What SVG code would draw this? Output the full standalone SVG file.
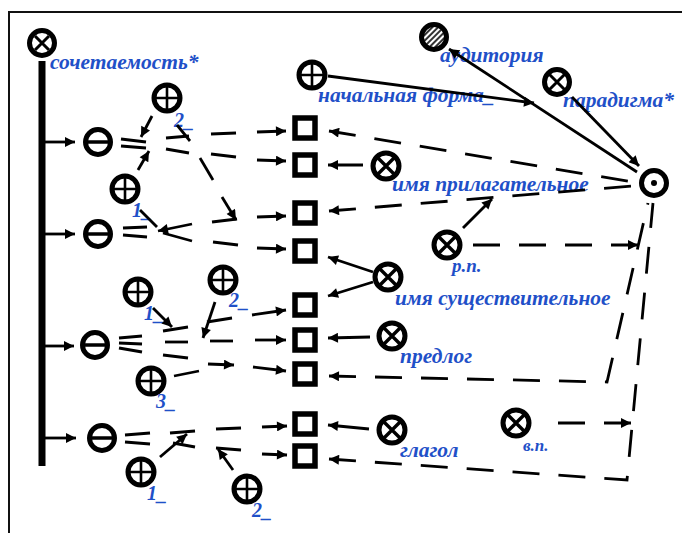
<svg xmlns="http://www.w3.org/2000/svg" width="682" height="533" viewBox="0 0 682 533">
<style>
.c{stroke:#000;stroke-width:2.8;fill:none}
.d{stroke:#000;stroke-width:2.8;fill:none;stroke-dasharray:27 19}
.a{marker-end:url(#ah)}
.s{marker-start:url(#ahs)}
.ring{fill:#fff;stroke:#000;stroke-width:5}
.in{stroke:#000;stroke-width:2.6;fill:none}
.inx{stroke:#000;stroke-width:3.4;fill:none}
.sq{fill:#fff;stroke:#000;stroke-width:5.5}
.t{font-family:"Liberation Serif",serif;font-style:italic;font-weight:bold;fill:#1f50c8;font-size:21.5px}
.n{font-family:"Liberation Serif",serif;font-style:italic;font-weight:bold;fill:#1f50c8;font-size:20px}
</style>
<defs>
<marker id="ah" viewBox="0 0 10 10" refX="10" refY="5" markerWidth="12" markerHeight="10" markerUnits="userSpaceOnUse" orient="auto"><path d="M0,0 L10,5 L0,10 z" fill="#000"/></marker>
<marker id="ahs" viewBox="0 0 10 10" refX="10" refY="5" markerWidth="12" markerHeight="10" markerUnits="userSpaceOnUse" orient="auto-start-reverse"><path d="M0,0 L10,5 L0,10 z" fill="#000"/></marker>
<pattern id="hatch" width="4" height="4" patternUnits="userSpaceOnUse" patternTransform="rotate(45)"><rect width="4" height="4" fill="#fff"/><rect width="2" height="4" fill="#333"/></pattern>
</defs>
<rect x="9" y="12" width="720" height="600" fill="none" stroke="#111" stroke-width="2"/>

<g id="root">
<circle class="ring" cx="42" cy="43" r="12.5"/>
<path class="inx" d="M35,36 L49,50 M49,36 L35,50" style="stroke-width:3"/>
<rect x="38.5" y="61" width="7" height="405" fill="#000"/>
</g>

<g id="theta1"><circle class="ring" cx="98" cy="142" r="12.5"/><line class="in" x1="86" y1="142" x2="110" y2="142" style="stroke-width:3.5"/></g>
<g id="theta2"><circle class="ring" cx="98" cy="234" r="12.5"/><line class="in" x1="86" y1="234" x2="110" y2="234" style="stroke-width:3.5"/></g>
<g id="theta3"><circle class="ring" cx="95" cy="345" r="12.5"/><line class="in" x1="83" y1="345" x2="107" y2="345" style="stroke-width:3.5"/></g>
<g id="theta4"><circle class="ring" cx="102" cy="438" r="12.5"/><line class="in" x1="90" y1="438" x2="114" y2="438" style="stroke-width:3.5"/></g>

<g id="pA1"><circle class="ring" cx="167" cy="98" r="13"/><path class="in" d="M154,98 H180 M167,85 V111"/></g>
<g id="pA2"><circle class="ring" cx="125" cy="189" r="13"/><path class="in" d="M112,189 H138 M125,176 V202"/></g>
<g id="pC1"><circle class="ring" cx="138" cy="292" r="13"/><path class="in" d="M125,292 H151 M138,279 V305"/></g>
<g id="pC2"><circle class="ring" cx="223" cy="280" r="13"/><path class="in" d="M210,280 H236 M223,267 V293"/></g>
<g id="pC3"><circle class="ring" cx="151" cy="381" r="13"/><path class="in" d="M138,381 H164 M151,368 V394"/></g>
<g id="pD1"><circle class="ring" cx="141" cy="472" r="13"/><path class="in" d="M128,472 H154 M141,459 V485"/></g>
<g id="pD2"><circle class="ring" cx="247" cy="489" r="13"/><path class="in" d="M234,489 H260 M247,476 V502"/></g>
<g id="pTop"><circle class="ring" cx="312" cy="75" r="13"/><path class="in" d="M299,75 H325 M312,62 V88"/></g>

<g id="sq1"><rect class="sq" x="295" y="118" width="20" height="20"/></g>
<g id="sq2"><rect class="sq" x="295" y="155" width="20" height="20"/></g>
<g id="sq3"><rect class="sq" x="295" y="203" width="20" height="20"/></g>
<g id="sq4"><rect class="sq" x="295" y="241" width="20" height="20"/></g>
<g id="sq5"><rect class="sq" x="295" y="295" width="20" height="20"/></g>
<g id="sq6"><rect class="sq" x="295" y="330" width="20" height="20"/></g>
<g id="sq7"><rect class="sq" x="295" y="364" width="20" height="20"/></g>
<g id="sq8"><rect class="sq" x="295" y="414" width="20" height="20"/></g>
<g id="sq9"><rect class="sq" x="295" y="446" width="20" height="20"/></g>

<g id="xN1"><circle class="ring" cx="386" cy="166" r="13"/><path class="inx" d="M377,157 L395,175 M395,157 L377,175"/></g>
<g id="xN2"><circle class="ring" cx="447" cy="245" r="13"/><path class="inx" d="M438,236 L456,254 M456,236 L438,254"/></g>
<g id="xN3"><circle class="ring" cx="388" cy="277" r="13"/><path class="inx" d="M379,268 L397,286 M397,268 L379,286"/></g>
<g id="xN4"><circle class="ring" cx="392" cy="336" r="13"/><path class="inx" d="M383,327 L401,345 M401,327 L383,345"/></g>
<g id="xN5"><circle class="ring" cx="392" cy="430" r="13"/><path class="inx" d="M383,421 L401,439 M401,421 L383,439"/></g>
<g id="xN6"><circle class="ring" cx="516" cy="423" r="13"/><path class="inx" d="M507,414 L525,432 M525,414 L507,432"/></g>
<g id="xPar"><circle class="ring" cx="557" cy="82" r="12.5"/><path class="inx" d="M549,74 L565,90 M565,74 L549,90" style="stroke-width:3"/></g>
<g id="hatched"><circle cx="434" cy="37" r="12.5" fill="url(#hatch)" stroke="#000" stroke-width="5"/></g>
<g id="dot"><circle class="ring" cx="654" cy="183" r="12.5"/><circle cx="654" cy="183" r="3" fill="#000"/></g>

<g id="labels">
<text class="t" x="50" y="69">сочетаемость*</text>
<text class="t" x="318" y="102">начальная форма_</text>
<text class="t" x="440" y="62">аудитория</text>
<text class="t" x="563" y="107">парадигма*</text>
<text class="t" x="392" y="191">имя прилагательное</text>
<text class="t" x="452" y="272" style="font-size:19px">р.п.</text>
<text class="t" x="395" y="305">имя существительное</text>
<text class="t" x="400" y="363">предлог</text>
<text class="t" x="400" y="457">глагол</text>
<text class="t" x="523" y="451" style="font-size:17px">в.п.</text>
<text class="n" x="174" y="127">2_</text>
<text class="n" x="132" y="217">1_</text>
<text class="n" x="144" y="320">1_</text>
<text class="n" x="229" y="307">2_</text>
<text class="n" x="156" y="408">3_</text>
<text class="n" x="147" y="500">1_</text>
<text class="n" x="252" y="517">2_</text>
</g>

<g id="connectors">
<line class="c a" x1="45" y1="142" x2="75" y2="142"/>
<line class="c a" x1="45" y1="234" x2="75" y2="234"/>
<line class="c a" x1="45" y1="346" x2="74" y2="346"/>
<line class="c a" x1="45" y1="438" x2="76" y2="438"/>

<line class="c" x1="121" y1="139" x2="146" y2="142"/>
<line class="c" x1="121" y1="146" x2="146" y2="148"/>
<line class="c a" x1="152" y1="116" x2="141" y2="137"/>
<line class="c a" x1="138" y1="170" x2="149" y2="151"/>
<line class="c" x1="166" y1="138" x2="189" y2="136"/>
<line class="c" x1="211" y1="134" x2="236" y2="133"/>
<line class="c a" x1="257" y1="132" x2="286" y2="131"/>
<line class="c" x1="166" y1="149" x2="189" y2="153"/>
<line class="c" x1="211" y1="154" x2="236" y2="157"/>
<line class="c a" x1="257" y1="160" x2="286" y2="161"/>
<line class="c" x1="177" y1="125" x2="190" y2="141"/>
<line class="c" x1="200" y1="158" x2="213" y2="180"/>
<line class="c a" x1="222" y1="197" x2="236" y2="220"/>

<line class="c" x1="123" y1="228" x2="147" y2="227"/>
<line class="c" x1="123" y1="235" x2="147" y2="237"/>
<line class="c" x1="140" y1="210" x2="157" y2="227"/>
<line class="c a" x1="192" y1="224" x2="158" y2="231"/>
<line class="c" x1="192" y1="241" x2="163" y2="233"/>
<line class="c" x1="212" y1="222" x2="237" y2="219"/>
<line class="c a" x1="257" y1="217" x2="286" y2="216"/>
<line class="c" x1="213" y1="242" x2="238" y2="245"/>
<line class="c a" x1="257" y1="248" x2="286" y2="249"/>

<line class="c" x1="119" y1="338" x2="142" y2="336"/>
<line class="c" x1="119" y1="343" x2="142" y2="344"/>
<line class="c" x1="119" y1="348" x2="142" y2="352"/>
<line class="c a" x1="153" y1="308" x2="172" y2="327"/>
<line class="c" x1="163" y1="331" x2="188" y2="327"/>
<line class="c" x1="207" y1="322" x2="232" y2="318"/>
<line class="c a" x1="252" y1="315" x2="286" y2="310"/>
<line class="c a" x1="215" y1="302" x2="203" y2="338"/>
<line class="c" x1="165" y1="342" x2="188" y2="342"/>
<line class="c" x1="210" y1="341" x2="233" y2="341"/>
<line class="c a" x1="255" y1="340" x2="286" y2="340"/>
<line class="c" x1="163" y1="355" x2="188" y2="358"/>
<line class="c a" x1="208" y1="364" x2="234" y2="365"/>
<line class="c a" x1="253" y1="367" x2="286" y2="371"/>
<line class="c" x1="174" y1="376" x2="199" y2="371"/>

<line class="c" x1="125" y1="435" x2="150" y2="433"/>
<line class="c" x1="125" y1="442" x2="150" y2="444"/>
<line class="c a" x1="160" y1="457" x2="187" y2="434"/>
<line class="c" x1="170" y1="433" x2="195" y2="431"/>
<line class="c" x1="216" y1="429" x2="241" y2="428"/>
<line class="c a" x1="262" y1="427" x2="287" y2="426"/>
<line class="c" x1="173" y1="443" x2="195" y2="447"/>
<line class="c" x1="216" y1="448" x2="241" y2="450"/>
<line class="c a" x1="262" y1="454" x2="287" y2="455"/>
<line class="c a" x1="233" y1="470" x2="218" y2="449"/>

<line class="c a" x1="363" y1="165" x2="328" y2="165"/>
<line class="c a" x1="373" y1="272" x2="328" y2="257"/>
<line class="c a" x1="373" y1="282" x2="328" y2="296"/>
<line class="c a" x1="370" y1="337" x2="328" y2="338"/>
<line class="c a" x1="369" y1="429" x2="328" y2="425"/>
<line class="c a" x1="463" y1="228" x2="492" y2="199"/>
<path class="d s" d="M638,245 L470,245"/>
<path class="d s" d="M631,423 L540,423"/>
<path class="d s" d="M329,131 L633,182"/>
<path class="d s" d="M329,211 L633,186"/>
<path class="d s" d="M329,376 L607,382 L648,203"/>
<path class="d s" d="M329,459 L627,480 L653,203"/>
<line class="c a" x1="328" y1="76" x2="534" y2="103"/>
<line class="c a" x1="637" y1="172" x2="449" y2="49"/>
<line class="c a" x1="572" y1="97" x2="639" y2="166"/>
</g>
</svg>
